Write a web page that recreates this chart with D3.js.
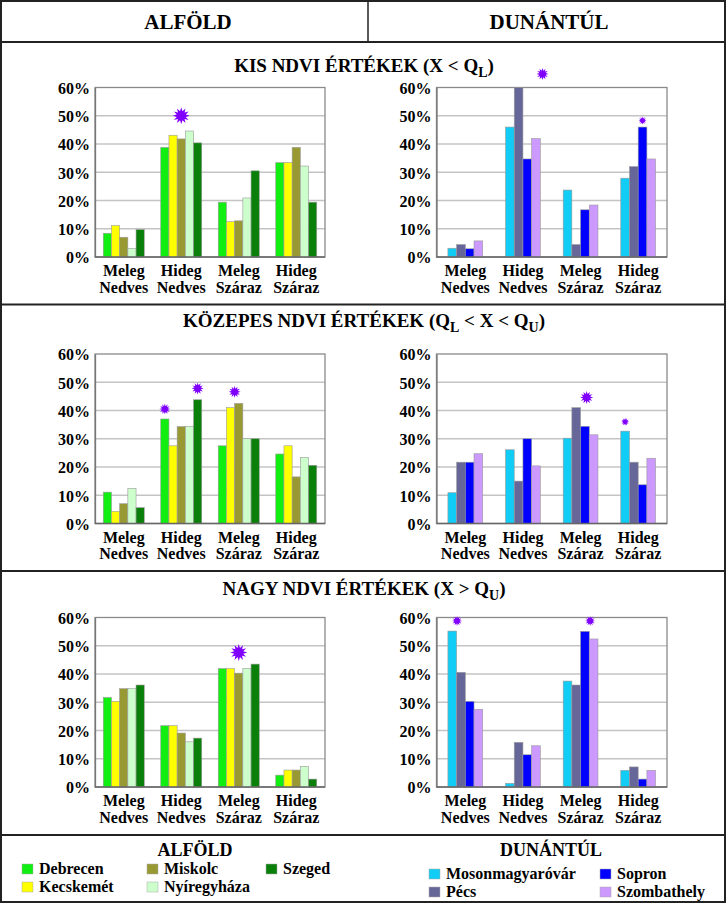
<!DOCTYPE html>
<html><head><meta charset="utf-8">
<script src="https://cdn.jsdelivr.net/npm/d3@7"></script>
<style>
html,body{margin:0;padding:0;background:#fff;}
svg text{font-family:"Liberation Serif","Times New Roman","DejaVu Serif",serif !important;font-weight:bold;fill:#000;}
</style></head>
<body><svg id="chart" width="726" height="903" font-family="Liberation Serif, Times New Roman, serif"></svg>
<script>
// ---------- DATA ----------
const categories = [["Meleg","Nedves"],["Hideg","Nedves"],["Meleg","Száraz"],["Hideg","Száraz"]];
const yTicks = [0,10,20,30,40,50,60];
const yTickLabels = ["0%","10%","20%","30%","40%","50%","60%"];

const alfoldCities = ["Debrecen","Kecskemét","Miskolc","Nyíregyháza","Szeged"];
const alfoldColors = ["#11ee11","#ffff00","#999933","#ccffcc","#0a800a"];
const dunantulCities = ["Mosonmagyaróvár","Pécs","Sopron","Szombathely"];
const dunantulColors = ["#11ccf5","#666699","#0000ff","#cc99ff"];

const headerLabels = ["ALFÖLD","DUNÁNTÚL"];
// values per category (rows) per city (columns), in %
const alfoldKis      = [[8.4,11.1,7.0,3.0,9.7],[38.8,43.1,41.8,44.6,40.4],[19.4,12.5,12.8,20.9,30.5],[33.4,33.4,38.8,32.2,19.4]];
const dunantulKis    = [[3.1,4.4,2.9,5.7],[46.0,60.0,34.7,41.9],[23.7,4.4,16.7,18.4],[27.9,32.0,46.0,34.7]];
const alfoldKozepes  = [[11.1,4.3,7.0,12.4,5.6],[37.0,27.5,34.3,34.3,43.8],[27.5,41.0,42.5,30.0,30.0],[24.6,27.5,16.5,23.4,20.6]];
const dunantulKozepes= [[10.9,21.7,21.7,24.7],[26.1,15.0,30.0,20.4],[30.2,41.0,34.4,31.4],[32.7,21.7,13.7,23.1]];
const alfoldNagy     = [[31.7,30.3,34.8,34.8,36.1],[21.7,21.7,19.1,16.0,17.3],[41.9,41.9,40.3,42.0,43.5],[4.2,6.0,6.0,7.3,2.8]];
const dunantulNagy   = [[55.2,40.6,30.3,27.5],[1.3,15.8,11.4,14.6],[37.5,36.1,55.1,52.4],[5.9,7.1,2.8,5.9]];

// significance stars: category index, position in bar group (bar index), value (%), size
const starsAlfoldKis      = [{cat:1,pos:2,v:50.0,r:8.5}];
const starsDunantulKis    = [{cat:1,pos:3.75,v:64.8,r:6},{cat:3,pos:2,v:48.3,r:4}];
const starsAlfoldKozepes  = [{cat:1,pos:0,v:40.5,r:5.5},{cat:1,pos:4,v:47.8,r:6},{cat:2,pos:1.5,v:46.6,r:6}];
const starsDunantulKozepes= [{cat:2,pos:2.2,v:44.6,r:6.5},{cat:3,pos:0,v:36.0,r:4}];
const starsAlfoldNagy     = [{cat:2,pos:2,v:47.6,r:8.5}];
const starsDunantulNagy   = [{cat:0,pos:0.55,v:58.8,r:5},{cat:2,pos:2.6,v:58.8,r:5}];

// ---------- LAYOUT ----------
const FONT = "'Liberation Serif','Times New Roman','DejaVu Serif',serif";
const W = 726, H = 903;
const svg = d3.select("#chart");
const colX = [{x0:95,x1:325},{x0:436.5,x1:667}];
const sections = [
  {titleY:72, top:87.5, main:"KIS NDVI ÉRTÉKEK (X < Q", sub:"L", tail:")",
   panels:[{data:alfoldKis,stars:starsAlfoldKis},{data:dunantulKis,stars:starsDunantulKis}]},
  {titleY:327, top:354, main:"KÖZEPES NDVI ÉRTÉKEK (Q", sub:"L", mid:" < X < Q", sub2:"U", tail:")",
   panels:[{data:alfoldKozepes,stars:starsAlfoldKozepes},{data:dunantulKozepes,stars:starsDunantulKozepes}]},
  {titleY:595, top:617.5, main:"NAGY NDVI ÉRTÉKEK (X > Q", sub:"U", tail:")",
   panels:[{data:alfoldNagy,stars:starsAlfoldNagy},{data:dunantulNagy,stars:starsDunantulNagy}]}
];
const plotH = 169.5;
const groups = [
  {cities:alfoldCities, colors:alfoldColors, barW:8.2},
  {cities:dunantulCities, colors:dunantulColors, barW:8.7}
];

function txt(sel){ return sel.attr("font-family",FONT).attr("font-weight","bold").attr("fill","#000"); }

// frame
svg.append("rect").attr("x",1).attr("y",1).attr("width",W-2).attr("height",H-2)
  .attr("fill","none").attr("stroke","#222").attr("stroke-width",2);
svg.append("line").attr("x1",368).attr("x2",368).attr("y1",0).attr("y2",42).attr("stroke","#222").attr("stroke-width",1.5);
[42,304.5,571,835].forEach(y=>svg.append("line").attr("x1",0).attr("x2",W).attr("y1",y).attr("y2",y)
  .attr("stroke","#222").attr("stroke-width",2));

// header
txt(svg.append("text")).attr("x",188).attr("y",29).attr("text-anchor","middle").attr("font-size",21).text(headerLabels[0]);
txt(svg.append("text")).attr("x",549).attr("y",29).attr("text-anchor","middle").attr("font-size",21).text(headerLabels[1]);

function starPath(r){
  const n=12, pts=[];
  for(let i=0;i<2*n;i++){
    const a = i*Math.PI/n - Math.PI/2;
    const rr = i%2===0 ? r : r*0.55;
    pts.push([Math.cos(a)*rr, Math.sin(a)*rr]);
  }
  return d3.line()(pts)+"Z";
}

sections.forEach(sec=>{
  const t = txt(svg.append("text")).attr("x",364).attr("y",sec.titleY).attr("text-anchor","middle").attr("font-size",19);
  t.append("tspan").text(sec.main);
  t.append("tspan").attr("dy",5).attr("font-size",14).text(sec.sub);
  if(sec.mid){
    t.append("tspan").attr("dy",-5).text(sec.mid);
    t.append("tspan").attr("dy",5).attr("font-size",14).text(sec.sub2);
  }
  t.append("tspan").attr("dy",-5).text(sec.tail);

  sec.panels.forEach((p,pi)=>{
    const cx = colX[pi], g = groups[pi];
    const y = d3.scaleLinear().domain([0,60]).range([sec.top+plotH, sec.top]);
    const x0 = d3.scaleBand().domain(d3.range(categories.length)).range([cx.x0,cx.x1]);
    const gw = g.cities.length*g.barW;
    const x1 = d3.scaleBand().domain(g.cities).range([0,gw]);
    const posX = d3.scaleLinear().domain([0,1]).range([g.barW/2, g.barW*1.5]);
    const layer = svg.append("g");
    layer.selectAll(".grid").data(yTicks.slice(1,-1)).join("line")
      .attr("x1",cx.x0).attr("x2",cx.x1).attr("y1",d=>y(d)).attr("y2",d=>y(d))
      .attr("stroke","#c4c4c4").attr("stroke-width",1.5);
    layer.append("rect").attr("x",cx.x0).attr("y",sec.top).attr("width",cx.x1-cx.x0).attr("height",plotH)
      .attr("fill","none").attr("stroke","#8a8a8a").attr("stroke-width",1.3);
    p.data.forEach((row,ci)=>{
      const gx = x0(ci) + (x0.bandwidth()-gw)/2;
      layer.selectAll(null).data(row).join("rect")
        .attr("x",(d,i)=>gx + x1(g.cities[i]))
        .attr("y",d=>y(d)).attr("width",x1.bandwidth()).attr("height",d=>y(0)-y(d))
        .attr("fill",(d,i)=>g.colors[i]).attr("stroke","#9a9a9a").attr("stroke-width",0.6);
    });
    const yAxis = d3.axisLeft(y).tickValues(yTicks).tickFormat((d,i)=>yTickLabels[i]).tickSize(0).tickPadding(5);
    const ya = layer.append("g").attr("transform",`translate(${cx.x0},0)`).call(yAxis)
      .attr("font-family",FONT).attr("font-size",16).attr("font-weight","bold");
    ya.select(".domain").attr("stroke","#777").attr("stroke-width",1.3);
    ya.selectAll("text").attr("fill","#000").attr("dy","0.36em");
    layer.append("line").attr("x1",cx.x0).attr("x2",cx.x1).attr("y1",y(0)).attr("y2",y(0)).attr("stroke","#666").attr("stroke-width",1.5);
    categories.forEach((c,ci)=>{
      const lx = x0(ci)+x0.bandwidth()/2;
      const tt = txt(layer.append("text")).attr("x",lx).attr("y",y(0)+19).attr("text-anchor","middle").attr("font-size",16);
      tt.append("tspan").attr("x",lx).text(c[0]);
      tt.append("tspan").attr("x",lx).attr("dy",16.5).text(c[1]);
    });
    layer.selectAll(".star").data(p.stars).join("path")
      .attr("d",d=>starPath(d.r))
      .attr("transform",d=>{
        const gx = x0(d.cat) + (x0.bandwidth()-gw)/2;
        return `translate(${gx+posX(d.pos)},${y(d.v)})`;
      })
      .attr("fill","#8000ff");
  });
});

// legend
txt(svg.append("text")).attr("x",195).attr("y",856).attr("text-anchor","middle").attr("font-size",18).text(headerLabels[0]);
txt(svg.append("text")).attr("x",551).attr("y",856).attr("text-anchor","middle").attr("font-size",18).text(headerLabels[1]);
const legendAlfoldPos = [[22,864],[22,882],[147,864],[147,882],[266,864]];
const legendDunantulPos = [[429,869],[429,887],[600,869],[600,887]];
function legend(cities, colors, pos){
  cities.forEach((c,i)=>{
    svg.append("rect").attr("x",pos[i][0]).attr("y",pos[i][1]).attr("width",11).attr("height",10)
      .attr("fill",colors[i]).attr("stroke","#aaa").attr("stroke-width",0.5);
    txt(svg.append("text")).attr("x",pos[i][0]+17).attr("y",pos[i][1]+10).attr("font-size",16).text(c);
  });
}
legend(alfoldCities, alfoldColors, legendAlfoldPos);
legend(dunantulCities, dunantulColors, legendDunantulPos);
</script></body></html>
